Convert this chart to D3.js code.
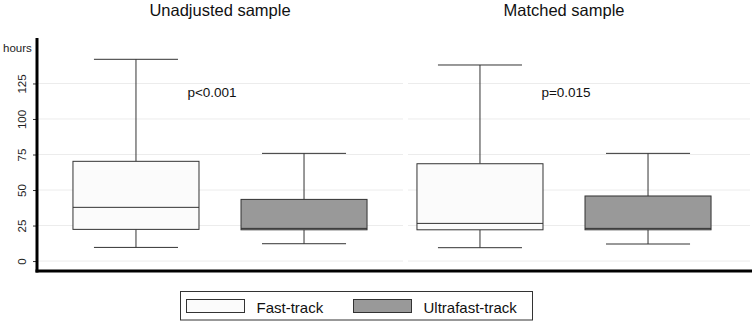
<!DOCTYPE html>
<html><head><meta charset="utf-8">
<script src="https://cdn.jsdelivr.net/npm/d3@7"></script>
<style>body{margin:0;background:#fff;} svg{display:block;font-family:"Liberation Sans",Arial,sans-serif;}</style>
</head><body><svg id="c" width="755" height="324"></svg>
<script>
const panels = ["Unadjusted sample", "Matched sample"];
const groups = ["Fast-track", "Ultrafast-track"];
const pValues = ["p<0.001", "p=0.015"];
// [lowerWhisker, q1, median, q3, upperWhisker] per panel
const fastTrack = [[9.6, 22.3, 37.8, 70.2, 142], [9.4, 22, 26.5, 68.5, 138]];
const ultrafastTrack = [[12.2, 22, 23, 43.4, 75.8], [12, 22, 23, 45.8, 75.8]];
const yTicks = [0, 25, 50, 75, 100, 125];
const fills = ["#fbfbfb", "#999999"];

const svg = d3.select("#c");
const y = d3.scaleLinear().domain([-7, 157]).range([271, 38]);
const panelRanges = [[37, 403], [381, 747]];
const gridRanges = [[37, 403], [408, 750]];
const pShift = [-8, 2];

// gridlines
gridRanges.forEach(r => {
  svg.append("g").selectAll("line").data(yTicks).join("line")
    .attr("x1", r[0]).attr("x2", r[1])
    .attr("y1", d => y(d)).attr("y2", d => y(d))
    .attr("stroke", "#ececec").attr("stroke-width", 1);
});

// y axis
const yAxis = svg.append("g").attr("transform", "translate(37,0)")
  .call(d3.axisLeft(y).tickValues(yTicks).tickSize(4).tickPadding(4));
yAxis.select(".domain").remove();
yAxis.selectAll(".tick line").attr("stroke", "#333");
yAxis.selectAll(".tick text")
  .attr("font-size", 11.5).attr("fill", "#222")
  .attr("transform", "rotate(-90)")
  .attr("x", 0).attr("y", -11).attr("dy", "0")
  .attr("text-anchor", "middle");

svg.append("line").attr("x1", 37).attr("x2", 37).attr("y1", 38).attr("y2", 272.5)
  .attr("stroke", "#000").attr("stroke-width", 3);
svg.append("line").attr("x1", 35.5).attr("x2", 752).attr("y1", 271).attr("y2", 271)
  .attr("stroke", "#000").attr("stroke-width", 3);

svg.append("text").attr("x", 3).attr("y", 52).attr("font-size", 11.5).attr("fill", "#222").text("hours");

panels.forEach((p, i) => {
  const x = d3.scaleBand().domain(groups).range(panelRanges[i]).paddingInner(0.25).paddingOuter(0.214);
  const bw = x.bandwidth();
  const cx = (panelRanges[i][0] + panelRanges[i][1]) / 2;
  svg.append("text").attr("x", cx).attr("y", 16).attr("text-anchor", "middle")
    .attr("font-size", 16.5).attr("fill", "#111").text(p);
  const mid = (x(groups[0]) + x(groups[1]) + bw) / 2;
  svg.append("text").attr("x", mid + pShift[i]).attr("y", 97).attr("text-anchor", "middle")
    .attr("font-size", 13.5).attr("fill", "#111").text(pValues[i]);
  const stats = [fastTrack[i], ultrafastTrack[i]];
  groups.forEach((g, j) => {
    const s = stats[j];
    const x0 = x(g), c = x0 + bw / 2, capW = bw * 2 / 3;
    const gg = svg.append("g").attr("stroke", "#333").attr("stroke-width", 1).attr("fill", "none");
    gg.append("line").attr("x1", c).attr("x2", c).attr("y1", y(s[4])).attr("y2", y(s[3]));
    gg.append("line").attr("x1", c).attr("x2", c).attr("y1", y(s[1])).attr("y2", y(s[0]));
    gg.append("line").attr("x1", c - capW/2).attr("x2", c + capW/2).attr("y1", y(s[4])).attr("y2", y(s[4]));
    gg.append("line").attr("x1", c - capW/2).attr("x2", c + capW/2).attr("y1", y(s[0])).attr("y2", y(s[0]));
    gg.append("rect").attr("x", x0).attr("width", bw).attr("y", y(s[3])).attr("height", y(s[1]) - y(s[3]))
      .attr("fill", fills[j]);
    gg.append("line").attr("x1", x0).attr("x2", x0 + bw).attr("y1", y(s[2])).attr("y2", y(s[2]));
  });
});

// legend
const lg = svg.append("g");
lg.append("rect").attr("x", 180.5).attr("y", 291.5).attr("width", 352).attr("height", 28.5)
  .attr("fill", "#fff").attr("stroke", "#333");
const lx = [186.5, 353.5];
groups.forEach((g, j) => {
  lg.append("rect").attr("x", lx[j]).attr("y", 299.5).attr("width", 58).attr("height", 13)
    .attr("fill", fills[j]).attr("stroke", "#333");
  lg.append("text").attr("x", lx[j] + 70).attr("y", 312.5).attr("font-size", 15).attr("fill", "#111").text(g);
});
</script></body></html>
